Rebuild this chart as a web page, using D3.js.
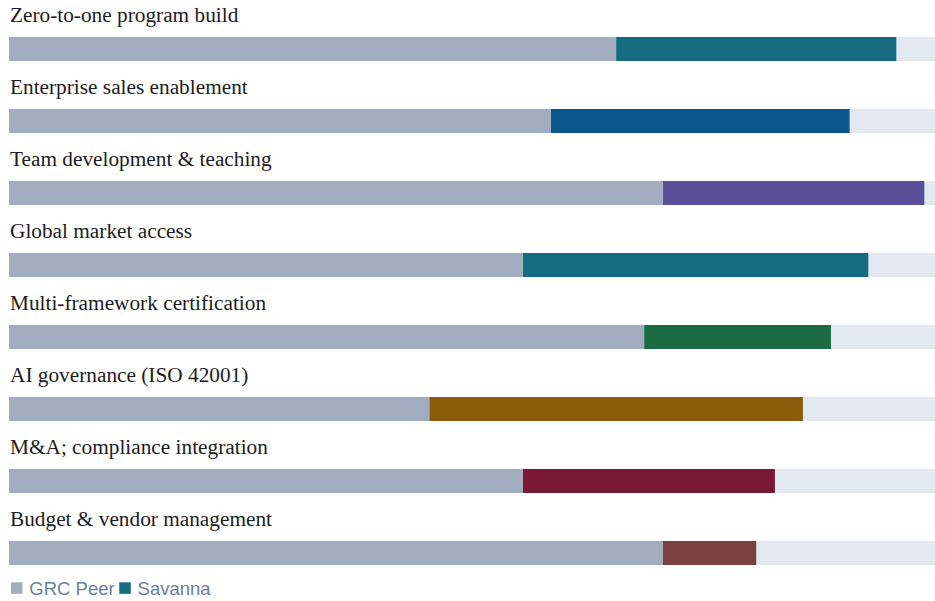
<!DOCTYPE html>
<html lang="en">
<head>
<meta charset="utf-8">
<title>Capability comparison</title>
<script src="https://cdn.jsdelivr.net/npm/d3@7"></script>
<style>
    body { margin: 0; background: #fff; }
    svg { display: block; }
</style>
</head>
<body>
<script type="text/javascript">

    // data (score out of 10)
    var categories = [
        "Zero-to-one program build",
        "Enterprise sales enablement",
        "Team development & teaching",
        "Global market access",
        "Multi-framework certification",
        "AI governance (ISO 42001)",
        "M&A; compliance integration",
        "Budget & vendor management"
    ];
    var peerScores = [6.5, 5.8, 7.0, 5.5, 6.8, 4.5, 5.5, 7.0];
    var savannaScores = [9.5, 9.0, 9.8, 9.2, 8.8, 8.5, 8.2, 8.0];
    var savannaColors = ["#156c80", "#0b568d", "#5b4f9a", "#156c80", "#1b6c43", "#8b5a0a", "#7a1935", "#7a3f3f"];
    var seriesNames = ["GRC Peer", "Savanna"];

    var width = 935;
    var height = 601;
    var peerColor = "#a1adbe";
    var trackColor = "#e1e8f0";

    var rows = categories.map(function (c, i) {
        return { name: c, peer: peerScores[i], savanna: savannaScores[i], color: savannaColors[i] };
    });

    var x = d3.scaleLinear().domain([0, 10]).range([9, 943]);
    var y = d3.scaleBand()
        .domain(categories)
        .range([0, 576])
        .paddingInner(0);

    var barH = 24;
    var barOffset = 37;

    var svg = d3.select("body").append("svg")
        .attr("width", width)
        .attr("height", height);

    var g = svg.selectAll("g.row")
        .data(rows)
        .enter()
        .append("g")
        .attr("class", "row")
        .attr("transform", function (d) { return "translate(0," + y(d.name) + ")"; });

    g.append("text")
        .attr("x", 10)
        .attr("y", 22)
        .attr("font-family", "'Liberation Serif', 'Times New Roman', serif")
        .attr("font-size", 21.3)
        .attr("fill", "#1c1c24")
        .text(function (d) { return d.name; });

    // background track
    g.append("rect")
        .attr("x", x(0))
        .attr("y", barOffset)
        .attr("width", x(10) - x(0))
        .attr("height", barH)
        .attr("fill", trackColor);

    // savanna segment
    g.append("rect")
        .attr("x", function (d) { return x(d.peer); })
        .attr("y", barOffset)
        .attr("width", function (d) { return x(d.savanna) - x(d.peer); })
        .attr("height", barH)
        .attr("fill", function (d) { return d.color; });

    // peer segment
    g.append("rect")
        .attr("x", x(0))
        .attr("y", barOffset)
        .attr("width", function (d) { return x(d.peer) - x(0); })
        .attr("height", barH)
        .attr("fill", peerColor);

    // legend
    var legend = svg.append("g").attr("transform", "translate(11,582.3)");
    var legendX = [0, 108.3];
    var legendColors = [peerColor, savannaColors[0]];
    seriesNames.forEach(function (s, i) {
        legend.append("rect")
            .attr("x", legendX[i])
            .attr("y", 0)
            .attr("width", 11.5)
            .attr("height", 11.5)
            .attr("fill", legendColors[i]);
        legend.append("text")
            .attr("x", legendX[i] + 18.3)
            .attr("y", 13)
            .attr("font-family", "'Liberation Sans', Arial, sans-serif")
            .attr("font-size", 18.5)
            .attr("fill", "#6b7f99")
            .text(s);
    });

</script>
</body>
</html>
